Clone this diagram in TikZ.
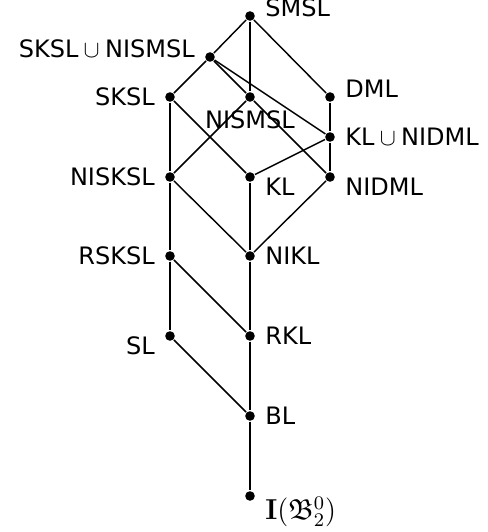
\documentclass[tikz,border=0pt]{standalone}
\usepackage{amssymb}
\usepackage[no-math]{fontspec}
\setmainfont{DejaVu Sans}
\usetikzlibrary{positioning}
\newcommand{\Un}{${}\cup{}$}

\begin{document}
\begin{tikzpicture}[
    x=0.4167pt, y=-0.4167pt, line width=0.6pt,
    dot/.style={circle, fill, inner sep=0pt, minimum size=4pt},
    every label/.style={inner sep=0pt},
    label distance=3.8pt
]
    \useasboundingbox (0,0) rectangle (488,532);
    % top part
    \node[dot, label={[anchor=base west]0:SMSL}] (smsl) at (250,16) {};
    \node[dot, label={[anchor=base east]180:SKSL\Un NISMSL}] (skslnismsl) at (210,57) {};
    \node[dot, label=left:SKSL] (sksl) at (170,97) {};
    \node[dot, label={[label distance=3pt]below:NISMSL}] (nismsl) at (250,97) {};
    \node[dot, label={[anchor=base west]0:DML}] (dml) at (330,97) {};
    \node[dot, label=right:KL\Un NIDML] (klnidml) at (330,137) {};
    \node[dot, label=left:NISKSL] (nisksl) at (170,177) {};
    \node[dot, label={[anchor=north west]0:KL}] (kl) at (250,177) {};
    \node[dot, label={[anchor=north west]0:NIDML}] (nidml) at (330,177) {};
    % lower part
    \node[dot, label=left:RSKSL] (rsksl) at (170,256) {};
    \node[dot, label=right:NIKL] (nikl) at (250,256) {};
    \node[dot, label={[anchor=north east]180:SL}] (sl) at (170,336) {};
    \node[dot, label=right:RKL] (rkl) at (250,336) {};
    \node[dot, label=right:BL] (bl) at (250,416) {};
    \node[dot, label={[anchor=north west, font=\large]0:$\mathbf{I}(\mathfrak{B}^0_2)$}] (ib) at (250,496) {};

    \foreach \a/\b in {smsl/skslnismsl, smsl/nismsl, smsl/dml,
        skslnismsl/sksl, skslnismsl/nismsl, skslnismsl/klnidml,
        sksl/nisksl, sksl/kl, nismsl/nisksl, nismsl/nidml,
        dml/klnidml, klnidml/nidml, klnidml/kl,
        nisksl/rsksl, nisksl/nikl, kl/nikl, nidml/nikl,
        rsksl/sl, rsksl/rkl, nikl/rkl, sl/bl, rkl/bl, bl/ib}
        \draw (\a) -- (\b);
\end{tikzpicture}
\end{document}
